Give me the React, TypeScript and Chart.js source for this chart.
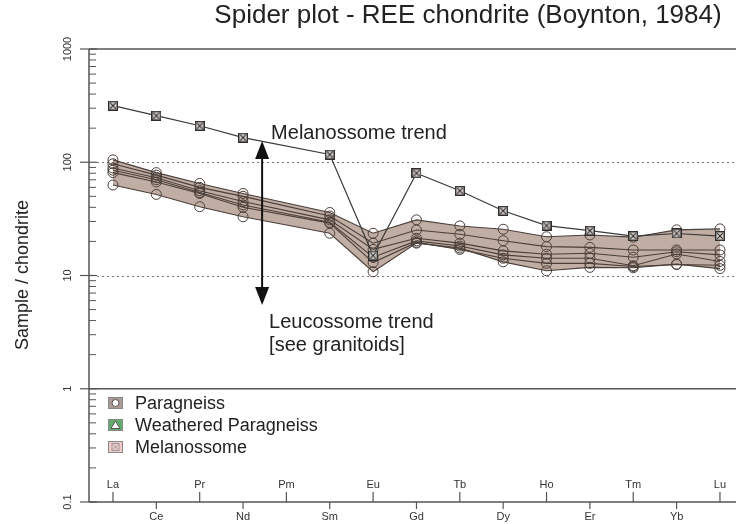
import React, { useEffect, useRef } from "react";
import { Chart, registerables } from "chart.js";
Chart.register(...registerables);

const elements = ["La", "Ce", "Pr", "Nd", "Pm", "Sm", "Eu", "Gd", "Tb", "Dy", "Ho", "Er", "Tm", "Yb", "Lu"];
const yTickValues = [0.1, 1, 10, 100, 1000];
const yTickLabels = ["0.1", "1", "10", "100", "1000"];

const paragneiss1 = [105, 81, 65, 53, null, 36, 23.6, 31, 27.4, 25.6, 22, 22.8, 21.8, 25.3, 25.8];
const paragneiss2 = [97, 77, 60, 50, null, 33.5, 19.3, 25.2, 23.1, 20.3, 18, 17.7, 16.8, 16.8, 16.8];
const paragneiss3 = [89, 73, 56, 45, null, 31, 17, 21.3, 19.3, 16.5, 15.4, 15.7, 14.5, 16.2, 15.2];
const paragneiss4 = [85, 70, 54, 42, null, 29.5, 14.5, 20.2, 18.2, 15.2, 14.2, 14.2, 12.2, 15.5, 13.3];
const paragneiss5 = [81, 67, 53, 40, null, 29, 13, 19.6, 17, 14.2, 12.8, 12.8, 12, 12.5, 12.3];
const paragneiss6 = [63, 52, 40.5, 33, null, 23.6, 10.8, 19.3, 17.5, 13.2, 11, 11.8, 11.7, 12.6, 11.5];
const melanossome = [316, 258, 210, 165, null, 117, 15, 80, 56, 37.3, 27.6, 24.9, 22.3, 23.5, 22.3];

const paragneissSeries = [paragneiss1, paragneiss2, paragneiss3, paragneiss4, paragneiss5, paragneiss6];
const legendLabels = ["Paragneiss", "Weathered Paragneiss", "Melanossome"];
const titleText = "Spider plot - REE chondrite (Boynton, 1984)";
const yTitle = "Sample / chondrite";

const FONT = "'Liberation Sans', Arial, Helvetica, sans-serif";

function toPoints(arr: (number | null)[]) {
  const pts: { x: number; y: number }[] = [];
  arr.forEach((v, i) => {
    if (v !== null) pts.push({ x: i + 1, y: v });
  });
  return pts;
}

function envelope(fn: (vals: number[]) => number) {
  const out: (number | null)[] = [];
  for (let i = 0; i < elements.length; i++) {
    const vals = paragneissSeries.map((s) => s[i]).filter((v) => v !== null) as number[];
    out.push(vals.length ? fn(vals) : null);
  }
  return out;
}

function makeCrossSquare(size: number, fill: string, stroke: string) {
  const c = document.createElement("canvas");
  c.width = size;
  c.height = size;
  const g = c.getContext("2d")!;
  g.fillStyle = fill;
  g.fillRect(0, 0, size, size);
  g.strokeStyle = stroke;
  g.lineWidth = 1.4;
  g.strokeRect(0.7, 0.7, size - 1.4, size - 1.4);
  g.lineWidth = 1.1;
  g.beginPath();
  g.moveTo(2.2, 2.2);
  g.lineTo(size - 2.2, size - 2.2);
  g.moveTo(size - 2.2, 2.2);
  g.lineTo(2.2, size - 2.2);
  g.stroke();
  return c;
}

const decorPlugin = {
  id: "decor",
  beforeDatasetsDraw(chart: any) {
    const ctx = chart.ctx as CanvasRenderingContext2D;
    const xs = chart.scales.x;
    const ys = chart.scales.y;
    const { left, right, top, bottom } = chart.chartArea;
    ctx.save();
    // dotted grid lines
    ctx.strokeStyle = "#777";
    ctx.lineWidth = 1;
    ctx.setLineDash([2, 3]);
    [10, 100].forEach((v) => {
      const y = Math.round(ys.getPixelForValue(v)) + 0.5;
      ctx.beginPath();
      ctx.moveTo(left + 8, y);
      ctx.lineTo(right, y);
      ctx.stroke();
    });
    ctx.setLineDash([]);
    // solid frame lines
    ctx.strokeStyle = "#555";
    ctx.lineWidth = 1.5;
    [1000, 1, 0.1].forEach((v) => {
      const y = ys.getPixelForValue(v);
      ctx.beginPath();
      ctx.moveTo(left, y);
      ctx.lineTo(right, y);
      ctx.stroke();
    });
    ctx.beginPath();
    ctx.moveTo(left, top);
    ctx.lineTo(left, bottom);
    ctx.stroke();
    // y ticks
    ctx.lineWidth = 1.2;
    yTickValues.forEach((v) => {
      const y = ys.getPixelForValue(v);
      ctx.beginPath();
      ctx.moveTo(left - 9, y);
      ctx.lineTo(left + 8, y);
      ctx.stroke();
    });
    ctx.lineWidth = 1;
    yTickValues.slice(0, -1).forEach((d) => {
      for (let k = 2; k <= 9; k++) {
        const y = ys.getPixelForValue(d * k);
        ctx.beginPath();
        ctx.moveTo(left, y);
        ctx.lineTo(left + 7, y);
        ctx.stroke();
      }
    });
    // y labels
    ctx.fillStyle = "#333";
    ctx.font = `11px ${FONT}`;
    ctx.textAlign = "center";
    ctx.textBaseline = "middle";
    yTickValues.forEach((v, i) => {
      const y = ys.getPixelForValue(v);
      ctx.save();
      ctx.translate(left - 21, y);
      ctx.rotate(-Math.PI / 2);
      ctx.fillText(yTickLabels[i], 0, 0);
      ctx.restore();
    });
    // x ticks
    ctx.strokeStyle = "#555";
    ctx.lineWidth = 1.2;
    elements.forEach((el, i) => {
      const x = xs.getPixelForValue(i + 1);
      ctx.beginPath();
      if (i % 2 === 0) {
        ctx.moveTo(x, bottom);
        ctx.lineTo(x, bottom - 10);
      } else {
        ctx.moveTo(x, bottom);
        ctx.lineTo(x, bottom + 7);
      }
      ctx.stroke();
      ctx.fillText(el, x, i % 2 === 0 ? bottom - 17 : bottom + 15);
    });
    // title
    ctx.fillStyle = "#222";
    ctx.font = `26px ${FONT}`;
    ctx.fillText(titleText, 468, 16);
    // y title
    ctx.font = `18px ${FONT}`;
    ctx.save();
    ctx.translate(23, 275);
    ctx.rotate(-Math.PI / 2);
    ctx.fillText(yTitle, 0, 0);
    ctx.restore();
    // legend
    const fills = ["#aa9b94", "#62ad6e", "#f3caca"];
    const rowsY = [403, 425, 447];
    ctx.textAlign = "left";
    ctx.font = `18px ${FONT}`;
    rowsY.forEach((cy, i) => {
      const bx = 108, bw = 15, bh = 12;
      ctx.fillStyle = fills[i];
      ctx.fillRect(bx, cy - bh / 2, bw, bh);
      ctx.strokeStyle = "#888";
      ctx.lineWidth = 1;
      ctx.strokeRect(bx + 0.5, cy - bh / 2 + 0.5, bw - 1, bh - 1);
      const cx = bx + bw / 2;
      if (i === 0) {
        ctx.fillStyle = "#fff";
        ctx.strokeStyle = "#555";
        ctx.beginPath();
        ctx.arc(cx, cy, 3.5, 0, Math.PI * 2);
        ctx.fill();
        ctx.stroke();
      } else if (i === 1) {
        ctx.fillStyle = "#fff";
        ctx.strokeStyle = "#555";
        ctx.beginPath();
        ctx.moveTo(cx, cy - 4);
        ctx.lineTo(cx + 4.5, cy + 3.5);
        ctx.lineTo(cx - 4.5, cy + 3.5);
        ctx.closePath();
        ctx.fill();
        ctx.stroke();
      } else {
        ctx.strokeStyle = "#999";
        ctx.strokeRect(cx - 3.5, cy - 3.5, 7, 7);
        ctx.beginPath();
        ctx.moveTo(cx - 2.5, cy - 2.5);
        ctx.lineTo(cx + 2.5, cy + 2.5);
        ctx.moveTo(cx + 2.5, cy - 2.5);
        ctx.lineTo(cx - 2.5, cy + 2.5);
        ctx.stroke();
      }
      ctx.fillStyle = "#222";
      ctx.fillText(legendLabels[i], 135, cy + 1);
    });
    ctx.restore();
  },
  afterDatasetsDraw(chart: any) {
    const ctx = chart.ctx as CanvasRenderingContext2D;
    const xs = chart.scales.x;
    const ys = chart.scales.y;
    ctx.save();
    const ax = xs.getPixelForValue(4.44);
    const yTop = ys.getPixelForValue(154);
    const yBot = ys.getPixelForValue(5.5);
    ctx.strokeStyle = "#111";
    ctx.fillStyle = "#111";
    ctx.lineWidth = 2;
    ctx.beginPath();
    ctx.moveTo(ax, yTop + 10);
    ctx.lineTo(ax, yBot - 10);
    ctx.stroke();
    ctx.beginPath();
    ctx.moveTo(ax, yTop);
    ctx.lineTo(ax + 7, yTop + 18);
    ctx.lineTo(ax - 7, yTop + 18);
    ctx.closePath();
    ctx.fill();
    ctx.beginPath();
    ctx.moveTo(ax, yBot);
    ctx.lineTo(ax + 7, yBot - 18);
    ctx.lineTo(ax - 7, yBot - 18);
    ctx.closePath();
    ctx.fill();
    ctx.fillStyle = "#222";
    ctx.font = `20px ${FONT}`;
    ctx.textAlign = "left";
    ctx.textBaseline = "middle";
    ctx.fillText("Melanossome trend", ax + 9, yTop - 8);
    ctx.fillText("Leucossome trend", ax + 7, yBot + 18);
    ctx.fillText("[see granitoids]", ax + 7, yBot + 41);
    ctx.restore();
  },
};

export default function App() {
  const ref = useRef<HTMLCanvasElement | null>(null);
  useEffect(() => {
    document.body.style.margin = "0";
    document.body.style.overflow = "hidden";
    const canvas = ref.current!;
    const crossSq = makeCrossSquare(10, "#d8d0cc", "#2e2e2e");
    const bandMax = envelope((v) => Math.max(...v));
    const bandMin = envelope((v) => Math.min(...v));
    const datasets: any[] = [
      {
        label: "bandMax",
        data: toPoints(bandMax),
        borderWidth: 0,
        pointRadius: 0,
        fill: "+1",
        backgroundColor: "rgba(150,118,102,0.6)",
        order: 10,
      },
      {
        label: "bandMin",
        data: toPoints(bandMin),
        borderWidth: 0,
        pointRadius: 0,
        fill: false,
        order: 10,
      },
      ...paragneissSeries.map((s, i) => ({
        label: "Paragneiss " + (i + 1),
        data: toPoints(s),
        borderColor: "#4b3f3a",
        borderWidth: 1.1,
        pointStyle: "circle",
        pointRadius: 5,
        pointBorderColor: "#4b3f3a",
        pointBorderWidth: 1,
        pointBackgroundColor: "rgba(0,0,0,0)",
        fill: false,
        order: 5,
      })),
      {
        label: "Melanossome",
        data: toPoints(melanossome),
        borderColor: "#3a3a3a",
        borderWidth: 1.2,
        pointStyle: crossSq,
        pointRadius: 5,
        fill: false,
        order: 1,
      },
    ];
    const chart = new Chart(canvas, {
      type: "line",
      data: { datasets },
      options: {
        animation: false,
        responsive: false,
        devicePixelRatio: 1,
        layout: { autoPadding: false, padding: { left: 89, right: 0, top: 49, bottom: 22 } },
        scales: {
          x: { type: "linear", min: 0.447, max: 15.37, display: false },
          y: { type: "logarithmic", min: 0.1, max: 1000, display: false },
        },
        plugins: { legend: { display: false }, tooltip: { enabled: false }, title: { display: false } },
        elements: { line: { tension: 0 } },
      },
      plugins: [decorPlugin],
    });
    return () => chart.destroy();
  }, []);
  return (
    <div style={{ width: 736, height: 524 }}>
      <canvas ref={ref} width={736} height={524} style={{ display: "block" }} />
    </div>
  );
}
